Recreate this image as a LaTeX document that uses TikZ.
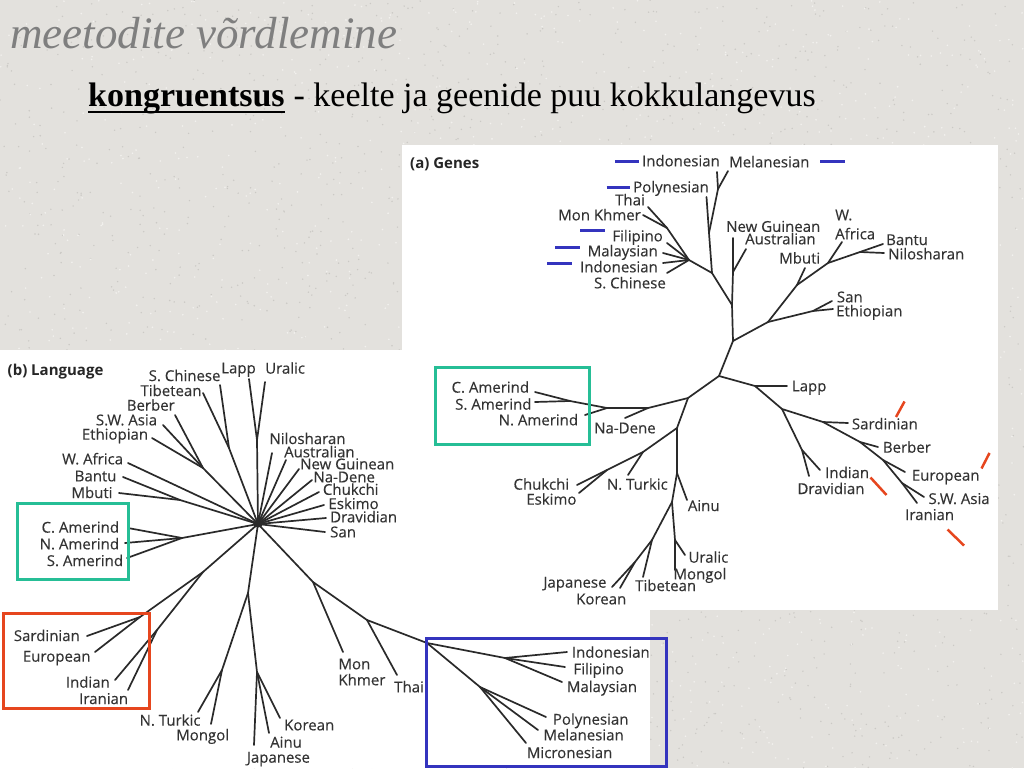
\documentclass[tikz,border=0pt]{standalone}
\usepackage{fontspec}
\setmainfont{Liberation Serif}
\newfontfamily\labfont[FakeBold=0.25]{Open Sans}
\newfontfamily\headfont{Open Sans}
\definecolor{bgc}{HTML}{E3E1DD}
\definecolor{dotc}{HTML}{CBC9C5}
\definecolor{dotl}{HTML}{F2F1EE}
\definecolor{treec}{HTML}{2A2A2A}
\definecolor{labc}{HTML}{333333}
\definecolor{tealc}{HTML}{26BE96}
\definecolor{redc}{HTML}{E6461E}
\definecolor{bluec}{HTML}{3434BE}
\definecolor{titlec}{HTML}{7F7F7F}
\begin{document}
\begin{tikzpicture}[x=1pt,y=-1pt,
  br/.style={draw=treec,line width=1.7pt,line cap=round,line join=round},
  lb/.style={font=\labfont\fontsize{15}{18}\selectfont,text=labc,inner sep=0pt,text height=10.7pt,text depth=0pt},
  lbw/.style={lb,anchor=west},
  lbe/.style={lb,anchor=east},
  ml/.style={font=\labfont\fontsize{15}{#1}\selectfont,text=labc,inner sep=0pt,align=left,anchor=west},
  hd/.style={font=\headfont\bfseries\fontsize{15}{18}\selectfont,text=black!85,inner sep=0pt,anchor=west,text height=10.7pt,text depth=0pt},
  bx/.style={line width=3pt},
  bmark/.style={draw=bluec,line width=3pt},
  rmark/.style={draw=redc,line width=2.5pt},
]
\useasboundingbox (0,0) rectangle (1024,768);
\fill[bgc] (0,0) rectangle (1024,768);
% background speckle
\pgfmathsetseed{7}
\foreach \i in {1,...,2200}{
  \pgfmathsetmacro\xx{rnd*1024}
  \pgfmathsetmacro\yy{rnd*768}
  \fill[dotc] (\xx,\yy) circle[radius=0.8pt];
}
\foreach \i in {1,...,1500}{
  \pgfmathsetmacro\xx{rnd*1024}
  \pgfmathsetmacro\yy{rnd*768}
  \fill[dotl] (\xx,\yy) circle[radius=0.9pt];
}
% panels
\fill[white] (402,145) rectangle (998,610);
\fill[white] (0,350) rectangle (650,768);

% title
\node[anchor=base west,inner sep=0pt,font=\fontsize{45}{50}\selectfont\itshape,text=titlec] (title) at (10,48.5) {meetodite võrdlemine};
\node[anchor=base west,inner sep=0pt,font=\fontsize{34}{40}\selectfont\bfseries] (kong) at (88,106) {kongruentsus};
\node[anchor=base west,inner sep=0pt,font=\fontsize{34}{40}\selectfont] (rest) at (kong.base east) {\ - keelte ja geenide puu kokkulangevus};
\draw[line width=2pt] ([yshift=-5.5pt]kong.base west) -- ([yshift=-5.5pt]kong.base east);

% ================= (a) Genes =================
\node[hd] (ghead) at (410,163.5) {(a) Genes};
\coordinate (gA) at (719,376);
\coordinate (gB) at (733,341);
\coordinate (gC) at (732,305);
\coordinate (gNG) at (733,238);
\coordinate (gAUn) at (733,272);
\coordinate (gAU) at (746,249);
\coordinate (gQ1) at (712,273);
\coordinate (gQ2) at (709,233);
\coordinate (gPO) at (706.5,197);
\coordinate (gQ3) at (718,189);
\coordinate (gINa) at (717,172);
\coordinate (gME) at (728,171);
\coordinate (gK) at (689,260);
\coordinate (gTM) at (667,228);
\coordinate (gTH) at (648,207);
\coordinate (gMK) at (643,215);
\coordinate (gFI) at (667,243);
\coordinate (gMA) at (663,253);
\coordinate (gINb) at (663,263);
\coordinate (gSC) at (667,273);
\coordinate (gD) at (768,322);
\coordinate (gSEn) at (813,311);
\coordinate (gSA) at (832,301);
\coordinate (gET) at (833,309);
\coordinate (gMBn) at (797,285);
\coordinate (gMB) at (805,268);
\coordinate (gWAn) at (828,263);
\coordinate (gWA) at (842,242);
\coordinate (gBNn) at (860,252);
\coordinate (gBA) at (883,244);
\coordinate (gNI) at (884,253);
\coordinate (gLAn) at (755,386);
\coordinate (gLA) at (787,386);
\coordinate (gX) at (782,409);
\coordinate (gSRn) at (823,422);
\coordinate (gSR) at (848,423);
\coordinate (gBEn) at (860,442);
\coordinate (gBE) at (878,447);
\coordinate (gEUn) at (883,460);
\coordinate (gEU) at (905,472);
\coordinate (gSWn) at (902,483);
\coordinate (gSW) at (924,497);
\coordinate (gIR) at (917,503);
\coordinate (gIDn) at (802,450);
\coordinate (gID) at (820,470);
\coordinate (gDR) at (809,476);
\coordinate (gE) at (688,398);
\coordinate (gNDn) at (648,408);
\coordinate (gND) at (625,418);
\coordinate (gAM) at (607,408);
\coordinate (gCSn) at (570,401);
\coordinate (gCA) at (535,392);
\coordinate (gSAm) at (535,402);
\coordinate (gNA) at (585,415);
\coordinate (gF) at (677,428);
\coordinate (gTn) at (643,452);
\coordinate (gNT) at (628,475);
\coordinate (gCEn) at (607,470);
\coordinate (gCH) at (577,485);
\coordinate (gES) at (579,493);
\coordinate (gAIn) at (677,473);
\coordinate (gAI) at (687,500);
\coordinate (gG) at (672,502);
\coordinate (gTIn) at (652,540);
\coordinate (gTI) at (643,577);
\coordinate (gJK) at (635,562);
\coordinate (gJA) at (612,587);
\coordinate (gKO) at (620,588);
\coordinate (gUM) at (675,540);
\coordinate (gUR) at (685,555);
\coordinate (gMO) at (675,570);

\draw[br] (gA) -- (gB) -- (gC) -- (gAUn) -- (gNG);
\draw[br] (gAUn) -- (gAU);
\draw[br] (gC) -- (gQ1) -- (gQ2) -- (gPO);
\draw[br] (gQ2) -- (gQ3) -- (gINa);
\draw[br] (gQ3) -- (gME);
\draw[br] (gQ1) -- (gK) -- (gTM) -- (gTH);
\draw[br] (gTM) -- (gMK);
\draw[br] (gK) -- (gFI);
\draw[br] (gK) -- (gMA);
\draw[br] (gK) -- (gINb);
\draw[br] (gK) -- (gSC);
\draw[br] (gB) -- (gD) -- (gSEn) -- (gSA);
\draw[br] (gSEn) -- (gET);
\draw[br] (gD) -- (gMBn) -- (gWAn) -- (gBNn) -- (gBA);
\draw[br] (gBNn) -- (gNI);
\draw[br] (gMBn) -- (gMB);
\draw[br] (gWAn) -- (gWA);
\draw[br] (gA) -- (gLAn) -- (gX) -- (gSRn) -- (gBEn) -- (gEUn) -- (gSWn) -- (gIR);
\draw[br] (gLAn) -- (gLA);
\draw[br] (gSRn) -- (gSR);
\draw[br] (gBEn) -- (gBE);
\draw[br] (gEUn) -- (gEU);
\draw[br] (gSWn) -- (gSW);
\draw[br] (gX) -- (gIDn) -- (gDR);
\draw[br] (gIDn) -- (gID);
\draw[br] (gA) -- (gE) -- (gNDn) -- (gAM) -- (gCSn) -- (gCA);
\draw[br] (gCSn) -- (gSAm);
\draw[br] (gAM) -- (gNA);
\draw[br] (gNDn) -- (gND);
\draw[br] (gE) -- (gF) -- (gTn) -- (gCEn) -- (gCH);
\draw[br] (gCEn) -- (gES);
\draw[br] (gTn) -- (gNT);
\draw[br] (gF) -- (gAIn) -- (gG) -- (gTIn) -- (gJK) -- (gJA);
\draw[br] (gJK) -- (gKO);
\draw[br] (gTIn) -- (gTI);
\draw[br] (gAIn) -- (gAI);
\draw[br] (gG) -- (gUM) -- (gMO);
\draw[br] (gUM) -- (gUR);

% genes labels
\node[lbe] (tgINa) at (720,161) {Indonesian};
\node[lbw] (tgME) at (729,162) {Melanesian};
\node[lbe] (tgPO) at (709,187) {Polynesian};
\node[lbe] (tgTH) at (645,200) {Thai};
\node[lbe] (tgMK) at (641,215) {Mon Khmer};
\node[lbe] (tgFI) at (663,236) {Filipino};
\node[lbe] (tgMA) at (658,251) {Malaysian};
\node[lbe] (tgINb) at (658,267) {Indonesian};
\node[lbe] (tgSC) at (666,283) {S. Chinese};
\node[lbw] (tgNG) at (726,226.5) {New Guinean};
\node[lbw] (tgAU) at (745,239) {Australian};
\node[ml=19] (tgWA) at (835,224.5) {W.\\Africa};
\node[lbw] (tgBA) at (886,239.7) {Bantu};
\node[lbw] (tgNI) at (888,254) {Nilosharan};
\node[lbw] (tgMB) at (779,258.2) {Mbuti};
\node[lbw] (tgSA) at (836.7,297) {San};
\node[lbw] (tgET) at (836,311) {Ethiopian};
\node[lbw] (tgLA) at (791.7,386) {Lapp};
\node[lbw] (tgSR) at (851.7,424) {Sardinian};
\node[lbw] (tgBE) at (882.7,447.3) {Berber};
\node[lbw] (tgEU) at (911.7,475.3) {European};
\node[lbw] (tgSW) at (928.3,498.7) {S.W. Asia};
\node[lbw] (tgIR) at (905,514.7) {Iranian};
\node[lbw] (tgID) at (825,472.7) {Indian};
\node[lbw] (tgDR) at (797.3,488.7) {Dravidian};
\node[lbe] (tgCA) at (529.3,387.3) {C. Amerind};
\node[lbe] (tgSAm) at (531.7,404.3) {S. Amerind};
\node[lbe] (tgNA) at (578.3,420) {N. Amerind};
\node[lbw] (tgND) at (594,428) {Na-Dene};
\node[lbe] (tgCH) at (569.3,484.3) {Chukchi};
\node[lbe] (tgES) at (576.7,499.3) {Eskimo};
\node[lbw] (tgNT) at (606.7,484.3) {N. Turkic};
\node[lbw] (tgAI) at (687.7,505.7) {Ainu};
\node[lbw] (tgUR) at (688.3,557.3) {Uralic};
\node[lbw] (tgMO) at (673.3,574) {Mongol};
\node[lbw] (tgTI) at (635,585.7) {Tibetean};
\node[lbe] (tgJA) at (606.7,582.3) {Japanese};
\node[lbw] (tgKO) at (576,599) {Korean};

% blue marks
\draw[bmark] (615,161.5) -- (639,161.5);
\draw[bmark] (820,161.5) -- (844.5,161.5);
\draw[bmark] (606.5,187) -- (630,187);
\draw[bmark] (580,230) -- (605,230);
\draw[bmark] (555,247) -- (580,247);
\draw[bmark] (547,263.5) -- (572,263.5);
% red marks
\draw[rmark] (896,417) -- (904.5,401.5);
\draw[rmark] (981.5,468.5) -- (989.5,453);
\draw[rmark] (870.5,477.5) -- (886.5,495);
\draw[rmark] (947.5,529.5) -- (964,545.5);
% teal box genes
\draw[tealc,bx] (435,367) rectangle (589,444);

% ================= (b) Language =================
\node[hd] (lhead) at (7.5,370) {(b) Language};
\coordinate (lH) at (258,524);
\coordinate (lLU) at (257,440);
\coordinate (lLA) at (249,379);
\coordinate (lUR) at (265,382);
\coordinate (lCT) at (229,448);
\coordinate (lSC) at (220,385);
\coordinate (lTI) at (203,393);
\coordinate (lBS) at (203,468);
\coordinate (lBE) at (175,415);
\coordinate (lSW) at (163,425);
\coordinate (lET) at (152,438);
\coordinate (lWA) at (128,463);
\coordinate (lBM) at (180,500);
\coordinate (lBA) at (123,477);
\coordinate (lMB) at (119,493);
\coordinate (lAM) at (182,538);
\coordinate (lCA) at (128,528);
\coordinate (lNA) at (125,543);
\coordinate (lSA) at (127,558);
\coordinate (lNI) at (272,453);
\coordinate (lAU) at (286,460);
\coordinate (lNG) at (299,469);
\coordinate (lND) at (312,480);
\coordinate (lCH) at (319,492);
\coordinate (lES) at (324,505);
\coordinate (lDR) at (326,518);
\coordinate (lSN) at (325,532);
\coordinate (lL1) at (203,572);
\coordinate (lSE) at (140,617);
\coordinate (lSR) at (87,636);
\coordinate (lEU) at (95,652);
\coordinate (lII) at (157,630);
\coordinate (lIN) at (115,680);
\coordinate (lIR) at (128,690);
\coordinate (lT) at (248,593);
\coordinate (lNM) at (222,670);
\coordinate (lNT) at (198,712);
\coordinate (lMO) at (211,724);
\coordinate (lJK) at (257,672);
\coordinate (lKO) at (280,718);
\coordinate (lAI) at (269,733);
\coordinate (lJA) at (254,745);
\coordinate (lMKn) at (313,582);
\coordinate (lMK) at (343,652);
\coordinate (lTHn) at (367,620);
\coordinate (lTH) at (397,675);
\coordinate (lO) at (427,643);
\coordinate (lIFM) at (505,658);
\coordinate (lIDN) at (567,652);
\coordinate (lFI) at (565,667);
\coordinate (lMA) at (562,682);
\coordinate (lPMM) at (480,687);
\coordinate (lPO) at (546,717);
\coordinate (lME) at (538,730);
\coordinate (lMI) at (526,743);

\draw[br] (lH) -- (lLU) -- (lLA);
\draw[br] (lLU) -- (lUR);
\draw[br] (lH) -- (lCT) -- (lSC);
\draw[br] (lCT) -- (lTI);
\draw[br] (lH) -- (lBS) -- (lBE);
\draw[br] (lBS) -- (lSW);
\draw[br] (lBS) -- (lET);
\draw[br] (lH) -- (lWA);
\draw[br] (lH) -- (lBM) -- (lBA);
\draw[br] (lBM) -- (lMB);
\draw[br] (lH) -- (lAM) -- (lCA);
\draw[br] (lAM) -- (lNA);
\draw[br] (lAM) -- (lSA);
\foreach \c in {lNI,lAU,lNG,lND,lCH,lES,lDR,lSN} \draw[br] (lH) -- (\c);
\draw[br] (lH) -- (lL1) -- (lSE) -- (lSR);
\draw[br] (lSE) -- (lEU);
\draw[br] (lL1) -- (lII) -- (lIN);
\draw[br] (lII) -- (lIR);
\draw[br] (lH) -- (lT) -- (lNM) -- (lNT);
\draw[br] (lNM) -- (lMO);
\draw[br] (lT) -- (lJK) -- (lJA);
\draw[br] (lJK) -- (lKO);
\draw[br] (lJK) -- (lAI);
\draw[br] (lH) -- (lMKn) -- (lMK);
\draw[br] (lMKn) -- (lTHn) -- (lTH);
\draw[br] (lTHn) -- (lO) -- (lIFM) -- (lIDN);
\draw[br] (lIFM) -- (lFI);
\draw[br] (lIFM) -- (lMA);
\draw[br] (lO) -- (lPMM) -- (lPO);
\draw[br] (lPMM) -- (lME);
\draw[br] (lPMM) -- (lMI);
\fill[treec] (lH) ellipse[x radius=5pt,y radius=3.5pt];

% language labels
\node[lbe] (tlSC) at (220.7,375.7) {S. Chinese};
\node[lbe] (tlLA) at (256,368) {Lapp};
\node[lbw] (tlUR) at (265,368.3) {Uralic};
\node[lbe] (tlTI) at (201.7,390.7) {Tibetean};
\node[lbe] (tlBE) at (175,405.3) {Berber};
\node[lbe] (tlSW) at (157.3,420) {S.W. Asia};
\node[lbe] (tlET) at (148.3,434.3) {Ethiopian};
\node[lbe] (tlWA) at (123.3,459) {W. Africa};
\node[lbe] (tlBA) at (116.7,476) {Bantu};
\node[lbe] (tlMB) at (112.7,492.7) {Mbuti};
\node[lbe] (tlCA) at (119.3,527.3) {C. Amerind};
\node[lbe] (tlNA) at (119.3,544) {N. Amerind};
\node[lbe] (tlSA) at (123.3,560.7) {S. Amerind};
\node[lbw] (tlNI) at (269.3,438.7) {Nilosharan};
\node[lbw] (tlAU) at (284,452) {Australian};
\node[lbw] (tlNG) at (300,464) {New Guinean};
\node[lbw] (tlND) at (313.3,477) {Na-Dene};
\node[lbw] (tlCH) at (322.7,489.5) {Chukchi};
\node[lbw] (tlES) at (328.3,503.7) {Eskimo};
\node[lbw] (tlDR) at (330,517) {Dravidian};
\node[lbw] (tlSN) at (330,532) {San};
\node[lbe] (tlSR) at (80,635.7) {Sardinian};
\node[lbe] (tlEU) at (90.7,656.3) {European};
\node[lbe] (tlIN) at (110,682.3) {Indian};
\node[lbe] (tlIR) at (128.3,698.7) {Iranian};
\node[lbe] (tlNT) at (200.7,720.3) {N. Turkic};
\node[lbe] (tlMO) at (229.3,735) {Mongol};
\node[lbw] (tlKO) at (284,725) {Korean};
\node[lbw] (tlAI) at (270,742.3) {Ainu};
\node[lbw] (tlJA) at (246.7,757.3) {Japanese};
\node[ml=16] (tlMK) at (338.3,672) {Mon\\Khmer};
\node[lbw] (tlTH) at (394,687) {Thai};
\node[lbw] (tlIDN) at (571.7,652.3) {Indonesian};
\node[lbw] (tlFI) at (573.3,669) {Filipino};
\node[lbw] (tlMA) at (566.7,686.7) {Malaysian};
\node[lbw] (tlPO) at (552.7,719.3) {Polynesian};
\node[lbw] (tlME) at (543.3,735) {Melanesian};
\node[lbw] (tlMI) at (526.7,752.7) {Micronesian};

% boxes
\draw[tealc,bx] (17,503.5) rectangle (128.5,579.5);
\draw[redc,bx] (3.5,613.5) rectangle (149,708);
\draw[bluec,bx] (426.5,638.5) rectangle (666,766.5);
\end{tikzpicture}
\end{document}
